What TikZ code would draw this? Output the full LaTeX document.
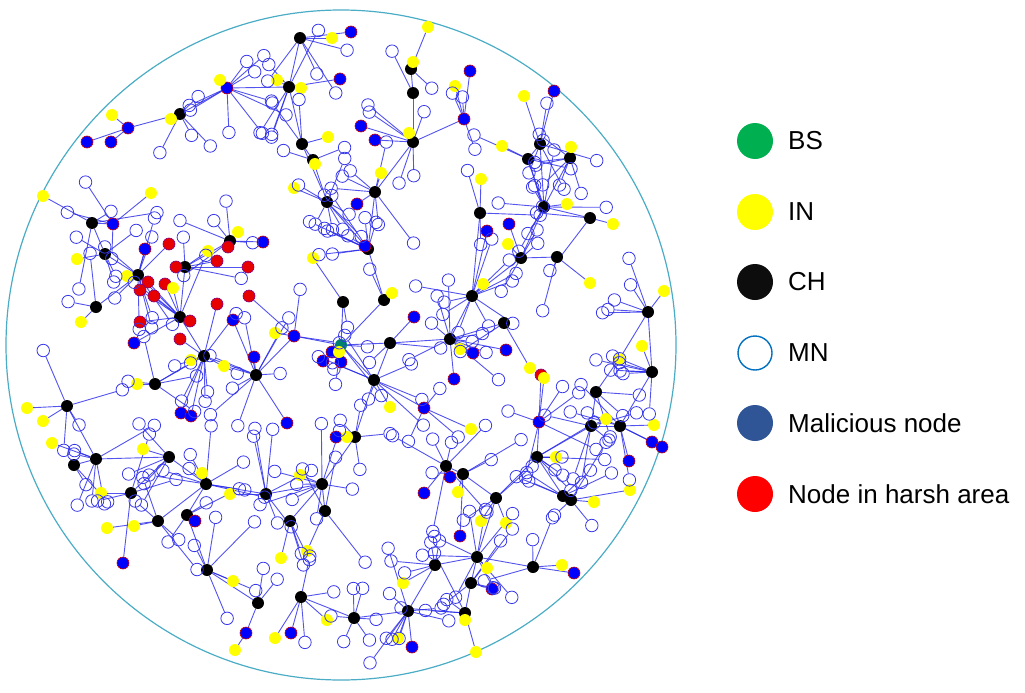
\documentclass[tikz,border=0pt]{standalone}
\usepackage{fontspec}
\setmainfont{Liberation Sans}
\usetikzlibrary{positioning}
\pgfdeclarelayer{bg}
\pgfsetlayers{bg,main}

\definecolor{linkblue}{RGB}{40,40,235}
\definecolor{mnblue}{RGB}{55,55,235}
\definecolor{rimblue}{RGB}{75,172,198}
\definecolor{bsteal}{RGB}{0,128,110}
\definecolor{bsgreen}{RGB}{0,176,80}
\definecolor{inyellow}{RGB}{255,255,0}
\definecolor{malblue}{RGB}{0,0,255}
\definecolor{legmal}{RGB}{47,85,151}
\definecolor{legmn}{RGB}{0,112,192}
\definecolor{hzred}{RGB}{230,0,0}

\tikzset{
  chnode/.style={circle,fill=black,minimum size=12pt,inner sep=0pt},
  mnnode/.style={circle,draw=mnblue,line width=0.8pt,minimum size=12.5pt,inner sep=0pt},
  innode/.style={circle,fill=inyellow,minimum size=12pt,inner sep=0pt},
  malnode/.style={circle,fill=malblue,draw=red!80!black,line width=0.6pt,minimum size=12pt,inner sep=0pt},
  hznode/.style={circle,fill=hzred,draw=red!50!blue,line width=0.6pt,minimum size=12pt,inner sep=0pt},
  bsnode/.style={circle,fill=bsteal,minimum size=12pt,inner sep=0pt},
  link/.style={linkblue,opacity=0.8,line width=0.9pt},
  legdot/.style={circle,minimum size=36pt,inner sep=0pt},
  legtext/.style={anchor=west,font=\fontsize{26}{30}\selectfont,inner sep=0pt}
}

% routing tree (members are added to this list as they are placed)
\gdef\edgelist{bs/ch28, bs/ch29, bs/ch30, bs/ch41, bs/mald, ch29/ch27,
  ch27/ch10, ch27/ch5, ch10/ch9, ch9/ch8, ch8/ch7, ch9/malb, ch5/ch4,
  ch4/ch3, ch3/ch2, ch2/ch1, ch2/mala, mala/ch6, ch6/malc, ch30/ch32,
  ch32/ch31, ch31/ch11, ch31/ch34, ch34/ch35, ch34/ch15, ch15/ch12,
  ch15/ch13, ch15/ch14, ch15/ch16, ch32/ch33, ch36/ch37, ch37/ch40,
  ch40/ch39, ch39/ch38, ch39/ch43, ch43/ch46, ch43/ch47, ch47/ch48,
  ch46/ch49, ch49/ch50, ch49/ch51, ch49/ch52, ch52/ch55, ch50/ch53,
  ch53/ch54, ch54/ch70, ch44/ch45, ch45/ch46, ch41/ch42, ch42/ch67,
  ch67/ch68, ch67/ch69, ch67/ch66, ch66/ch61, ch61/ch63, ch61/ch60,
  ch60/ch59, ch61/ch62, ch63/ch64, ch64/ch65, ch57/ch60, ch56/ch57,
  ch58/ch57, mald/ch25, ch25/ch24, ch24/ch26, ch24/ch23, ch23/ch19,
  ch23/ch21, ch21/ch20, ch19/ch18, ch18/ch17, ch19/ch22, ch17/malg,
  ch41/male, ch43/malf, ch65/mali}

% members around a head: name, x, y, count
\newcommand\addmembers[4]{%
  \foreach \k in {1,...,#4}{%
    \pgfmathsetmacro\ang{rnd*360}%
    \pgfmathsetmacro\dd{22+rnd*46}%
    \pgfmathsetmacro\px{#2+\dd*cos(\ang)}%
    \pgfmathsetmacro\py{#3+\dd*sin(\ang)}%
    \pgfmathtruncatemacro\out{veclen((\px-341)/100,(\py-345)/100)>3.2}%
    \ifnum\out=1
      \pgfmathsetmacro\px{#2-\dd*cos(\ang)}%
      \pgfmathsetmacro\py{#3-\dd*sin(\ang)}%
    \fi
    \node[mnnode] (#1-\k) at (\px,\py) {};
    \xdef\edgelist{#1/#1-\k,\edgelist}%
  }%
}

\def\chlist{ch1/300/38/4, ch2/289/87/5, ch3/302/144/3, ch4/313/160/2,
  ch5/327/202/7, ch6/180/114/4, ch7/411/69/1, ch8/413/93/1, ch9/413/142/5,
  ch10/375/192/6, ch11/480/213/3, ch12/540/144/4, ch13/528/159/4,
  ch14/570/158/6, ch15/544/207/7, ch16/590/218/2, ch17/92/223/3,
  ch18/105/254/4, ch19/138/275/8, ch20/230/241/5, ch21/185/267/2,
  ch22/96/307/2, ch23/180/317/2, ch24/204/356/6, ch25/256/375/8,
  ch26/155/384/5, ch27/368/249/9, ch28/343/302/1, ch29/384/300/1,
  ch30/390/343/3, ch31/472/296/10, ch32/450/339/8, ch33/504/323/1,
  ch34/521/258/3, ch35/557/257/1, ch36/648/312/6, ch37/652/372/7,
  ch38/596/392/3, ch39/591/426/5, ch40/620/426/4, ch41/374/380/6,
  ch42/355/437/4, ch43/537/457/6, ch44/446/466/6, ch45/463/474/3,
  ch46/496/498/2, ch47/563/496/5, ch48/571/500/3, ch49/477/557/8,
  ch50/435/565/4, ch51/533/567/3, ch52/471/583/4, ch53/408/611/8,
  ch54/354/618/6, ch55/465/613/4, ch56/67/406/4, ch57/96/459/6,
  ch58/74/465/2, ch59/131/493/3, ch60/169/457/4, ch61/206/484/8,
  ch62/158/521/4, ch63/187/515/3, ch64/207/570/5, ch65/258/603/2,
  ch66/266/494/6, ch67/322/484/8, ch68/325/511/3, ch69/290/521/3,
  ch70/301/597/3}

\begin{document}
\begin{tikzpicture}[x=1pt,y=-1pt]
\pgfmathsetseed{11}
\useasboundingbox (0,0) rectangle (1025,693);

% field
\draw[rimblue,line width=1.2pt] (341,345) circle[radius=335pt];

% base station and cluster heads
\node[bsnode] (bs) at (341,345) {};
\foreach \nm/\x/\y/\n in \chlist {\node[chnode] (\nm) at (\x,\y) {};}

% malicious relays
\foreach \nm/\x/\y in {mala/227/88, malb/464/119, malc/128/128, mald/294/336,
  male/424/408, malf/539/422, malg/113/224, mali/246/633}
  {\node[malnode] (\nm) at (\x,\y) {};}

% nodes in harsh area
\foreach \x/\y/\p [count=\i] in {169/244/ch19, 228/247/ch20, 217/261/ch21,
  248/267/ch21, 176/267/ch21, 148/282/ch23, 140/290/ch23, 154/296/ch23,
  165/284/ch23, 190/321/ch23, 140/322/ch23, 217/304/ch24, 249/296/mald,
  180/339/ch24, 541/375/malf}
  {\node[hznode] (hz\i) at (\x,\y) {};
   \xdef\edgelist{\p/hz\i,\edgelist}}

% malicious nodes
\foreach \x/\y/\p [count=\i] in {87/142/malc, 111/142/malc, 340/79/ch2,
  351/32/ch1, 470/71/malb, 361/126/ch9, 375/140/ch9, 357/204/ch10,
  365/246/ch27, 145/249/ch19, 263/242/ch20, 233/320/ch25, 134/343/ch23,
  181/413/ch24, 191/416/ch24, 254/357/ch25, 287/423/ch25, 336/437/ch42,
  323/361/bs, 341/362/bs, 332/352/bs, 414/317/ch30, 473/353/ch32,
  506/350/ch32, 454/379/ch32, 509/224/ch34, 487/231/ch31, 554/91/ch12,
  652/442/ch40, 662/447/ch40, 629/461/ch40, 450/477/ch44, 424/493/ch44,
  460/536/ch45, 492/589/ch52, 574/573/ch51, 412/647/ch53, 123/563/ch59,
  195/521/ch63, 291/633/ch70}
  {\node[malnode] (mal\i) at (\x,\y) {};
   \xdef\edgelist{\p/mal\i,\edgelist}}

% intermediate nodes
\foreach \x/\y/\p [count=\i] in {332/38/ch1, 277/80/ch2, 301/88/ch2,
  220/80/mala, 171/119/ch6, 112/115/malc, 315/164/ch4, 328/137/ch3,
  294/188/ch5, 43/196/ch17, 151/193/malg, 428/27/ch7, 413/62/ch7,
  455/86/malb, 409/133/ch9, 381/173/ch10, 481/179/ch11, 524/96/ch12,
  502/146/ch13, 571/147/ch14, 567/204/ch15, 613/224/ch16, 508/244/ch34,
  590/283/ch35, 77/259/ch18, 127/276/ch19, 208/251/ch21, 238/232/ch20,
  173/288/ch23, 81/322/ch22, 191/360/ch24, 224/366/ch25, 275/333/mald,
  137/384/ch26, 313/258/ch28, 392/293/ch29, 483/284/ch31, 460/349/ch32,
  530/368/ch33, 544/378/malf, 390/407/ch41, 471/429/male, 664/291/ch36,
  642/346/ch37, 619/359/ch38, 606/419/ch39, 654/425/ch40, 556/457/ch43,
  347/437/ch42, 27/408/ch56, 43/421/ch56, 52/443/ch57, 143/449/ch60,
  101/493/ch59, 202/473/ch61, 230/494/ch66, 300/475/ch67, 134/526/ch62,
  107/528/ch62, 281/558/ch69, 307/551/ch68, 233/581/ch64, 235/650/mali,
  275/638/ch70, 327/620/ch70, 458/492/ch45, 481/521/ch46, 506/523/ch46,
  594/502/ch48, 630/490/ch48, 487/568/ch49, 403/583/ch50, 562/565/ch51,
  465/620/ch55, 476/652/ch55, 398/638/ch53, 339/352/bs}
  {\node[innode] (in\i) at (\x,\y) {};
   \xdef\edgelist{\p/in\i,\edgelist}}

% member nodes
\foreach \nm/\x/\y/\n in \chlist {\addmembers{\nm}{\x}{\y}{\n}}
\foreach \nm/\x/\y/\n in {mala/227/88/9, malb/464/119/3, mald/294/336/2,
  male/424/408/3, malf/539/422/5, malg/113/224/3, bs/341/345/4}
  {\addmembers{\nm}{\x}{\y}{\n}}

% all links behind the nodes
\begin{pgfonlayer}{bg}
\foreach \a/\b in \edgelist {\draw[link] (\a) -- (\b);}
\end{pgfonlayer}

% legend
\node[legdot,fill=bsgreen] (leg-bs) at (755,141) {};
\node[legdot,fill=inyellow] (leg-in) at (755,212) {};
\node[legdot,fill=black!95] (leg-ch) at (755,282) {};
\node[legdot,draw=legmn,line width=1.4pt,minimum size=34pt] (leg-mn) at (755,353) {};
\node[legdot,fill=legmal] (leg-mal) at (755,423) {};
\node[legdot,fill=red] (leg-hz) at (755,494) {};
\node[legtext] (txt-bs) at (788,141) {BS};
\node[legtext] (txt-in) at (788,212) {IN};
\node[legtext] (txt-ch) at (788,282) {CH};
\node[legtext] (txt-mn) at (788,353) {MN};
\node[legtext] (txt-mal) at (788,423) {Malicious node};
\node[legtext] (txt-hz) at (788,494) {Node in harsh area};
\end{tikzpicture}
\end{document}
